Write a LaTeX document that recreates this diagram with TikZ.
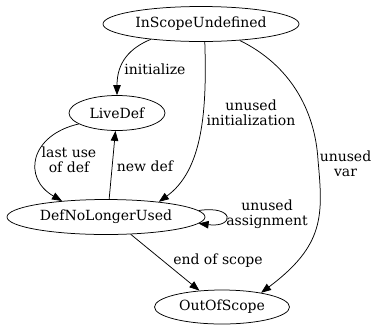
\documentclass[tikz,border=0pt]{standalone}
\usepackage{fontspec}
\setmainfont{DejaVu Serif}
\usetikzlibrary{shapes.geometric,arrows.meta}
\tikzset{
  st/.style={ellipse,draw,line width=0.75pt,inner sep=0pt,font=\fontsize{14}{15.5}\selectfont},
  lbl/.style={align=center,inner sep=0pt,font=\fontsize{14}{15.5}\selectfont},
  edge/.style={draw,line width=0.75pt,-{Triangle[length=10pt,width=7.5pt]}}
}
\begin{document}
\begin{tikzpicture}[x=1pt,y=-1pt]
\useasboundingbox (0,0) rectangle (371,325);
\node[st,minimum width=196pt,minimum height=35pt] (isu) at (201,24) {InScopeUndefined};
\node[st,minimum width=96pt,minimum height=35pt] (ld) at (117,113) {LiveDef};
\node[st,minimum width=198pt,minimum height=35pt] (dnl) at (106,217) {DefNoLongerUsed};
\node[st,minimum width=135pt,minimum height=34pt] (oos) at (222,307) {OutOfScope};

\path[edge] (isu.197) .. controls (130,48) and (117,62) .. (ld.north);
\node[lbl] (l1) at (155,69) {initialize};

\path[edge] (isu.282) .. controls (207,110) and (203,170) .. (dnl.16);
\node[lbl] (l2) at (251,113) {unused\\initialization};

\path[edge] (isu.337) .. controls (290,65) and (315,110) .. (318,160)
  .. controls (323,215) and (325,245) .. (oos.20);
\node[lbl] (l3) at (345.5,164) {unused\\var};

\path[edge] (ld.196) .. controls (30,135) and (22,178) .. (dnl.160);
\node[lbl] (l4) at (69,160) {last use\\of def};

\path[edge] (dnl.80) -- (ld.265);
\node[lbl] (l5) at (145,166) {new def};

\path[edge] (dnl.4) .. controls (235,205) and (235,228) .. (dnl.-4);
\node[lbl] (l6) at (267,214) {unused\\assignment};

\path[edge] (dnl.325) -- (oos.144);
\node[lbl] (l7) at (218,261) {end of scope};
\end{tikzpicture}
\end{document}
